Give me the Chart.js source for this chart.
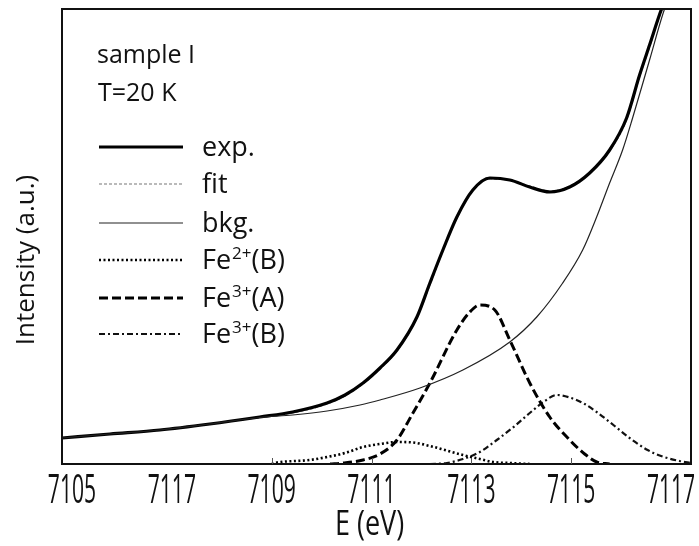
<!DOCTYPE html>
<html>
<head>
<meta charset="utf-8">
<script src="https://cdn.jsdelivr.net/npm/chart.js@4.4.1/dist/chart.umd.min.js"></script>
<style>
  html, body { margin: 0; padding: 0; background: #fff; }
  #wrap { width: 699px; height: 546px; }
</style>
</head>
<body>
<div id="wrap"><canvas id="c" width="699" height="546"></canvas></div>
<script>
// ---- axis ticks ----
const tickValues = [7105, 7107, 7109, 7111, 7113, 7115, 7117];
const tickLabels = ['7105', '7117', '7109', '7111', '7113', '7115', '7117'];
const tickMarkValues = [7109, 7111, 7113, 7115];
const xTitle = 'E (eV)';
const yTitle = 'Intensity (a.u.)';
const noteLines = ['sample I', 'T=20 K'];

// ---- series (E in eV, intensity in a.u.) ----
const expE = [7104.80, 7105.76, 7106.76, 7107.76, 7108.76, 7109.42, 7110.11, 7110.47, 7110.83, 7111.17, 7111.51, 7111.91, 7112.17, 7112.43, 7112.71, 7113.03, 7113.37, 7113.77, 7114.17, 7114.57, 7114.97, 7115.37, 7115.77, 7116.11, 7116.37, 7116.57, 7116.81, 7117.07];
const expI = [0.26, 0.30, 0.34, 0.40, 0.47, 0.52, 0.61, 0.69, 0.81, 0.96, 1.14, 1.47, 1.81, 2.14, 2.47, 2.74, 2.86, 2.84, 2.77, 2.72, 2.77, 2.91, 3.14, 3.46, 3.89, 4.19, 4.55, 4.85];

const fitE = [7104.80, 7105.76, 7106.76, 7107.76, 7108.76, 7109.42, 7110.11, 7110.47, 7110.83, 7111.17, 7111.51, 7111.91, 7112.17, 7112.43, 7112.71, 7113.03, 7113.37, 7113.77, 7114.17, 7114.57, 7114.97, 7115.37, 7115.77, 7116.11, 7116.37, 7116.57, 7116.81, 7117.07];
const fitI = [0.26, 0.30, 0.34, 0.40, 0.465, 0.51, 0.60, 0.68, 0.80, 0.95, 1.13, 1.46, 1.79, 2.13, 2.46, 2.74, 2.85, 2.84, 2.78, 2.73, 2.78, 2.91, 3.13, 3.44, 3.87, 4.17, 4.53, 4.83];

const bkgE = [7104.80, 7105.76, 7106.76, 7107.76, 7108.76, 7109.42, 7110.11, 7110.77, 7111.17, 7111.97, 7112.83, 7113.77, 7114.31, 7114.83, 7115.23, 7115.51, 7115.77, 7116.03, 7116.23, 7116.57, 7116.87, 7117.13];
const bkgI = [0.26, 0.30, 0.34, 0.40, 0.465, 0.49, 0.53, 0.59, 0.64, 0.76, 0.94, 1.22, 1.47, 1.81, 2.14, 2.47, 2.81, 3.14, 3.46, 4.04, 4.55, 4.85];

const fe2BE = [7109.00, 7109.06, 7109.76, 7110.11, 7110.47, 7110.83, 7111.17, 7111.51, 7111.83, 7112.17, 7112.47, 7112.83, 7113.17, 7113.43, 7113.77, 7114.17];
const fe2BI = [0.00, 0.01, 0.04, 0.07, 0.11, 0.17, 0.20, 0.22, 0.215, 0.18, 0.14, 0.09, 0.05, 0.02, 0.01, 0.00];

const fe3AE = [7110.17, 7110.43, 7110.83, 7111.17, 7111.51, 7111.83, 7112.17, 7112.71, 7112.97, 7113.17, 7113.47, 7113.77, 7114.17, 7114.57, 7114.97, 7115.27, 7115.51, 7115.77];
const fe3AI = [0.00, 0.01, 0.04, 0.10, 0.24, 0.51, 0.81, 1.34, 1.52, 1.59, 1.54, 1.24, 0.81, 0.47, 0.24, 0.10, 0.02, 0.00];

const fe3BE = [7112.17, 7112.51, 7112.83, 7113.17, 7113.51, 7113.87, 7114.17, 7114.47, 7114.71, 7114.97, 7115.27, 7115.51, 7115.87, 7116.17, 7116.53, 7116.83, 7117.17, 7117.41];
const fe3BI = [0.00, 0.01, 0.05, 0.12, 0.24, 0.38, 0.51, 0.63, 0.69, 0.665, 0.60, 0.52, 0.38, 0.26, 0.14, 0.075, 0.03, 0.01];

const seriesNames = ['exp.', 'fit', 'bkg.', 'Fe2+(B)', 'Fe3+(A)', 'Fe3+(B)'];

function pts(xs, ys) { return xs.map((x, i) => ({ x: x, y: ys[i] })); }

const styles = [
  { color: '#000', width: 3.2, dash: [] },
  { color: '#777', width: 1.2, dash: [3, 2] },
  { color: '#222', width: 1.2, dash: [] },
  { color: '#000', width: 2.6, dash: [2, 2.5] },
  { color: '#000', width: 3, dash: [9, 4] },
  { color: '#111', width: 2.2, dash: [6, 3, 2, 3] }
];
const dataSets = [pts(expE, expI), pts(fitE, fitI), pts(bkgE, bkgI), pts(fe2BE, fe2BI), pts(fe3AE, fe3AI), pts(fe3BE, fe3BI)];
const drawOrder = [2, 3, 4, 5, 0, 1];

const datasets = drawOrder.map(i => ({
  label: seriesNames[i],
  data: dataSets[i],
  borderColor: styles[i].color,
  borderWidth: styles[i].width,
  borderDash: styles[i].dash,
  pointRadius: 0,
  fill: false,
  cubicInterpolationMode: 'monotone'
}));

const FONT = '"Open Sans", "Noto Sans", sans-serif';

const decor = {
  id: 'decor',
  afterDraw(chart) {
    const ctx = chart.ctx;
    const a = chart.chartArea;
    const xs = chart.scales.x;
    ctx.save();
    // frame
    ctx.strokeStyle = '#111';
    ctx.lineWidth = 2;
    ctx.setLineDash([]);
    ctx.strokeRect(a.left, a.top, a.right - a.left, a.bottom - a.top);
    // inner tick marks
    ctx.strokeStyle = '#555';
    ctx.lineWidth = 1;
    tickMarkValues.forEach(v => {
      const px = Math.round(xs.getPixelForValue(v)) + 0.5;
      ctx.beginPath();
      ctx.moveTo(px, a.bottom);
      ctx.lineTo(px, a.bottom - 6);
      ctx.stroke();
    });
    // tick labels (condensed, tall)
    ctx.fillStyle = '#111';
    tickValues.forEach((v, i) => {
      const px = xs.getPixelForValue(v);
      ctx.save();
      ctx.translate(px, 503);
      ctx.scale(0.88, 1.7);
      ctx.font = '24px ' + FONT;
      ctx.textAlign = 'center';
      ctx.textBaseline = 'alphabetic';
      ctx.fillText(tickLabels[i], 0, 0);
      ctx.restore();
    });
    // x title
    ctx.save();
    ctx.translate((a.left + a.right) / 2 - 7, 535);
    ctx.scale(1, 1.25);
    ctx.font = '27px ' + FONT;
    ctx.textAlign = 'center';
    ctx.textBaseline = 'alphabetic';
    ctx.fillText(xTitle, 0, 0);
    ctx.restore();
    // y title
    ctx.save();
    ctx.translate(27, 260);
    ctx.rotate(-Math.PI / 2);
    ctx.font = '26px ' + FONT;
    ctx.textAlign = 'center';
    ctx.textBaseline = 'middle';
    ctx.fillText(yTitle, 0, 0);
    ctx.restore();
    // notes
    ctx.font = '500 25px ' + FONT;
    ctx.textAlign = 'left';
    ctx.textBaseline = 'alphabetic';
    ctx.fillText(noteLines[0], 97, 63);
    ctx.fillText(noteLines[1], 98, 101);
    // legend
    const rowY = [147, 184, 223, 260, 298, 334];
    const x0 = 99, x1 = 183, tx = 202;
    seriesNames.forEach((name, i) => {
      const s = styles[i];
      const y = rowY[i];
      ctx.strokeStyle = s.color;
      ctx.lineWidth = s.width;
      ctx.setLineDash(s.dash);
      ctx.beginPath();
      ctx.moveTo(x0, y);
      ctx.lineTo(x1, y);
      ctx.stroke();
      ctx.setLineDash([]);
      ctx.fillStyle = '#111';
      const base = y + 9;
      const m = name.match(/^(Fe)(\d\+)(\(.*\))$/);
      ctx.textAlign = 'left';
      ctx.textBaseline = 'alphabetic';
      if (m) {
        ctx.font = '27px ' + FONT;
        let x = tx;
        ctx.fillText(m[1], x, base);
        x += ctx.measureText(m[1]).width + 1;
        ctx.font = '17px ' + FONT;
        ctx.fillText(m[2], x, base - 10);
        x += ctx.measureText(m[2]).width;
        ctx.font = '27px ' + FONT;
        ctx.fillText(m[3], x, base);
      } else {
        ctx.font = '27px ' + FONT;
        ctx.fillText(name, tx, base);
      }
    });
    ctx.restore();
  }
};

const whiteBg = {
  id: 'whiteBg',
  beforeDraw(chart) {
    const ctx = chart.ctx;
    ctx.save();
    ctx.fillStyle = '#fff';
    ctx.fillRect(0, 0, chart.width, chart.height);
    ctx.restore();
  }
};

new Chart(document.getElementById('c'), {
  type: 'line',
  data: { datasets: datasets },
  options: {
    responsive: false,
    animation: false,
    layout: { padding: { left: 62, top: 9, right: 8, bottom: 82 } },
    plugins: { legend: { display: false }, tooltip: { enabled: false } },
    scales: {
      x: {
        type: 'linear', min: 7104.8, max: 7117.4, display: false,
        afterBuildTicks: (s) => { s.ticks = tickValues.map(v => ({ value: v })); }
      },
      y: { type: 'linear', min: 0, max: 4.55, display: false }
    }
  },
  plugins: [whiteBg, decor]
});
</script>
</body>
</html>
